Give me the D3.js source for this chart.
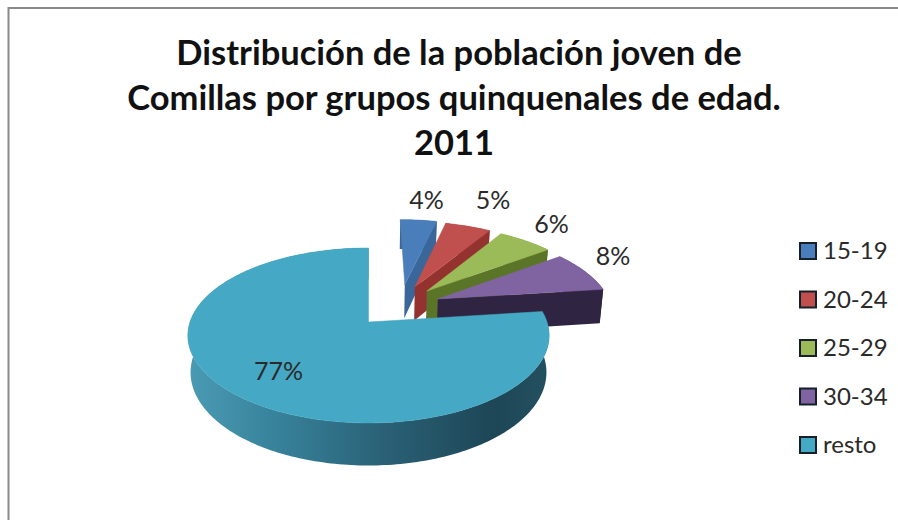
<!DOCTYPE html>
<html>
<head>
<meta charset="utf-8">
<script src="https://cdn.jsdelivr.net/npm/d3@7/dist/d3.min.js"></script>
<style>
    html, body { margin: 0; padding: 0; background: #fff; }
    svg { display: block; }
    text { font-family: Lato, "Open Sans", sans-serif; fill: #2a2a2a; }
</style>
</head>
<body>
<div id="chart"></div>
<script>
// data
const categories = ["15-19", "20-24", "25-29", "30-34", "resto"];
const values = [4, 5, 6, 8, 77];
const titleLines = ["Distribución de la población joven de", "Comillas por grupos quinquenales de edad.", "2011"];

// styles
const topColors = ["#4a7ebb", "#c0504d", "#9bbb59", "#8064a2", "#45a8c4"];
const wallColors = ["#3a6699", "#93322f", "#5a7528", "#2f2442", "#2f6f86"];

// exploded offset of each slice on the pie plane (u right, v back), in radii
const explodeU = [0.218, 0.277, 0.346, 0.405, 0];
const explodeV = [0.47, 0.437, 0.384, 0.281, 0];
// label shift from the middle of the outer arc, px
const labelDx = [8, 25, 26, 28, 0];
const labelDy = [-20, -26, -17, -15, 0];

const width = 898, height = 520;
const cx = 368.5, cy = 322;
const radiusX = 178.5, radiusY = 85.4;
const persp = 0.154;   // tilt of the pie plane
const depth = 36;

const svg = d3.select("#chart").append("svg")
    .attr("width", width)
    .attr("height", height);

// frame of the chart
svg.append("path")
    .attr("d", d3.line()([[8.5, height], [8.5, 8], [width, 8]]))
    .attr("fill", "none")
    .attr("stroke", "#8a8a8a")
    .attr("stroke-width", 2);

// title, the first line sits a little to the right in the original
svg.selectAll("text.title")
    .data(titleLines)
    .enter()
    .append("text")
    .attr("class", "title")
    .attr("x", (d, i) => i == 0 ? 459 : 454)
    .attr("y", (d, i) => 65 + i * 45)
    .attr("text-anchor", "middle")
    .style("font-size", "34.5px")
    .style("font-weight", "700")
    .style("fill", "#111")
    .text(d => d);

// project a point of the pie plane to the screen
function project(u, v, z) {
    let den = 1 + persp * v;
    let shrink = z ? 0.985 : 1;
    return [
        cx + shrink * radiusX * u / den,
        cy - radiusY * v / den + (z ? depth / den : 0)
    ];
}

let pie = d3.pie().sort(null).startAngle(0).endAngle(2 * Math.PI);
let slices = pie(values);
let line = d3.line();

function rimPoint(d, i, a, z) {
    return project(explodeU[i] + Math.sin(a), explodeV[i] + Math.cos(a), z);
}

function rim(d, i, z) {
    let n = Math.ceil((d.endAngle - d.startAngle) / 0.02);
    return d3.range(n + 1).map(k => rimPoint(d, i, d.startAngle + (d.endAngle - d.startAngle) * k / n, z));
}

// side gradient of the big slice
let defs = svg.append("defs");
let grad = defs.append("linearGradient")
    .attr("id", "wallGrad")
    .attr("gradientUnits", "userSpaceOnUse")
    .attr("x1", cx - radiusX).attr("x2", cx + radiusX)
    .attr("y1", 0).attr("y2", 0);
grad.selectAll("stop")
    .data([[0, "#4a9ab3"], [0.25, "#37819a"], [0.55, "#2a6075"], [0.85, "#1d4656"], [1, "#23505f"]])
    .enter()
    .append("stop")
    .attr("offset", d => d[0])
    .attr("stop-color", d => d[1]);

// slices back to front, later ones cover the walls of earlier ones
slices.forEach(function(d, i) {
    let g = svg.append("g").attr("class", "slice");
    let apexTop = project(explodeU[i], explodeV[i], false);
    let apexBot = project(explodeU[i], explodeV[i], true);
    let topRim = rim(d, i, false);
    let botRim = rim(d, i, true);
    let wallFill = i == 4 ? "url(#wallGrad)" : wallColors[i];

    // outer wall
    g.append("path")
        .attr("d", line(topRim.concat(botRim.slice().reverse())) + "Z")
        .attr("fill", wallFill);

    // cut wall from the apex to the end of the arc
    if (i < 4) {
        g.append("path")
            .attr("d", line([apexTop, topRim[topRim.length - 1], botRim[botRim.length - 1], apexBot]) + "Z")
            .attr("fill", wallFill);
    }

    // top face
    g.append("path")
        .attr("d", line([apexTop].concat(topRim)) + "Z")
        .attr("fill", topColors[i])
        .attr("stroke", topColors[i])
        .attr("stroke-width", 0.5);
});

// value labels
svg.selectAll("text.label")
    .data(slices)
    .enter()
    .append("text")
    .attr("class", "label")
    .attr("text-anchor", "middle")
    .attr("dy", "0.35em")
    .style("font-size", "25px")
    .attr("x", function(d, i) {
        let a = (d.startAngle + d.endAngle) / 2;
        let r = i == 4 ? 0.7 : 1;
        return project(explodeU[i] + r * Math.sin(a), explodeV[i] + r * Math.cos(a), false)[0] + labelDx[i];
    })
    .attr("y", function(d, i) {
        let a = (d.startAngle + d.endAngle) / 2;
        let r = i == 4 ? 0.7 : 1;
        return project(explodeU[i] + r * Math.sin(a), explodeV[i] + r * Math.cos(a), false)[1] + labelDy[i];
    })
    .text(d => d.value + "%");

// legend
let legendY = d3.scalePoint().domain(categories).range([251, 445]);
let legend = svg.selectAll("g.legend")
    .data(categories)
    .enter()
    .append("g")
    .attr("class", "legend")
    .attr("transform", d => `translate(800, ${legendY(d)})`);

legend.append("rect")
    .attr("x", 0)
    .attr("y", -8)
    .attr("width", 16)
    .attr("height", 16)
    .attr("fill", (d, i) => topColors[i])
    .attr("stroke", "#15202b")
    .attr("stroke-width", 2);

legend.append("text")
    .attr("x", 23)
    .attr("dy", "0.35em")
    .style("font-size", "24px")
    .text(d => d);
</script>
</body>
</html>
